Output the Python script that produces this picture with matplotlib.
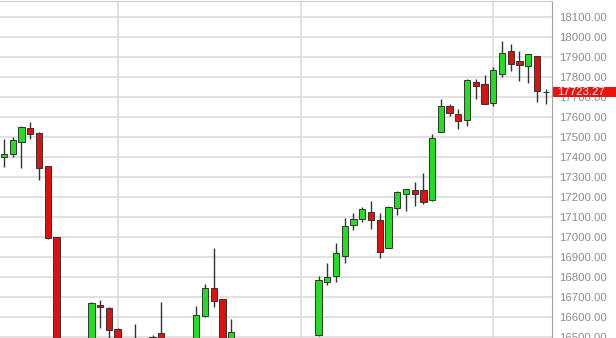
import numpy as np
import matplotlib
matplotlib.use("Agg")
import matplotlib.pyplot as plt
import matplotlib.transforms as mtransforms
from matplotlib.patches import Rectangle

plt.rcParams['font.family'] = ['Liberation Sans', 'DejaVu Sans']

# daily candles, oldest first (values below 16500 are cut off by the view)
opens = [17401.5, 17413.5, 17473.5, 17543.5, 17518.5, 17353.5, 16998.5, 16390, 16300, 16360,
         16420, 16660, 16643.5, 16540, 16420, 16390, 16450, 16420, 16518.5, 16440,
         16400, 16430, 16470, 16605, 16746.5, 16688.5, 16460, 16480, 16420, 16350,
         16400, 16360, 16300, 16340, 16400, 16380, 16508.5, 16776.5, 16806.5, 16905,
         17060, 17088.5, 17125, 17085, 16946.5, 17143.5, 17213.5, 17233.5, 17235, 17185,
         17526.5, 17655, 17615, 17585, 17773.5, 17765, 17668.5, 17815, 17931.5, 17878.5,
         17855, 17905, 17727]
closes = [17415, 17485, 17550, 17513.5, 17346.5, 16993.5, 16390, 16300, 16360, 16420,
          16668.5, 16648.5, 16535, 16420, 16380, 16450, 16420, 16501.5, 16440, 16400,
          16430, 16470, 16611.5, 16746.5, 16681.5, 16440, 16523.5, 16420, 16350, 16400,
          16360, 16300, 16340, 16400, 16380, 16470, 16785, 16801.5, 16921.5, 17056.5,
          17090, 17140, 17086.5, 16926.5, 17151.5, 17223.5, 17238.5, 17216.5, 17173.5, 17496.5,
          17653.5, 17621.5, 17581.5, 17785, 17755, 17663.5, 17835, 17921.5, 17866.5, 17861.5,
          17915, 17730, 17723.27]
highs = [17490, 17501, 17555, 17573, 17523, 17355, 16998.5, 16420, 16400, 16470,
         16676.5, 16685, 16650, 16545, 16460, 16563.5, 16480, 16510, 16676.5, 16470,
         16460, 16485, 16656.5, 16765, 16943.5, 16690, 16590, 16490, 16440, 16430,
         16450, 16390, 16380, 16440, 16460, 16485, 16806.5, 16871.5, 16971.5, 17093.5,
         17121.5, 17151.5, 17180, 17121.5, 17155, 17228.5, 17241.5, 17273.5, 17321.5, 17513.5,
         17688.5, 17665, 17641.5, 17788.5, 17791.5, 17808.5, 17851.5, 17981.5, 17963.5, 17931.5,
         17915, 17905, 17740]
lows = [17348, 17401, 17346, 17488, 17285, 16990, 16360, 16250, 16270, 16330,
        16400, 16545, 16470, 16390, 16330, 16350, 16380, 16400, 16420, 16360,
        16370, 16410, 16450, 16600, 16648.5, 16420, 16440, 16380, 16320, 16300,
        16330, 16250, 16260, 16320, 16350, 16360, 16505, 16760, 16773.5, 16868.5,
        17035, 17073.5, 17040, 16893.5, 16943.5, 17110, 17131.5, 17155, 17163.5, 17180,
        17525, 17605, 17541.5, 17556.5, 17690, 17663.5, 17655, 17798.5, 17831.5, 17781.5,
        17771.5, 17676.5, 17665]

last_price = 17723.27
month_starts = [13, 34, 56]
price_ticks = list(range(16500, 18101, 100))

fig = plt.figure(figsize=(6.16, 3.38), dpi=100)
ax = fig.add_axes([0, 0, 552 / 616, 337 / 338])

x = np.arange(len(opens))
o = np.array(opens)
c = np.array(closes)
up = c >= o
colors = np.where(up, '#22dd22', '#dd1111')
colors[-1] = '#111111'

for v in price_ticks:
    ax.axhline(v, color='#dcdcdc', lw=1.2, zorder=0)
for m in month_starts:
    ax.axvline(m, color='#dcdcdc', lw=1.2, zorder=0)

ax.vlines(x, lows, highs, color='#333333', lw=1.0, zorder=2)
ax.bar(x, np.maximum(np.abs(c - o), 4), bottom=np.minimum(o, c), width=0.72,
       color=colors, edgecolor='#333333', linewidth=0.7, zorder=3)

ax.set_xlim(-0.46, 62.72)
ax.set_ylim(16495, 18180)
ax.set_xticks([])
ax.yaxis.tick_right()
ax.set_yticks(price_ticks)
ax.set_yticklabels([f"{v:.2f}" for v in price_ticks])
ax.tick_params(axis='y', length=0, pad=5, labelsize=8.2, labelcolor='#8c8c8c')
for s in ['left', 'bottom']:
    ax.spines[s].set_visible(False)
ax.spines['right'].set_color('#a0a0a0')
ax.spines['top'].set_color('#cccccc')

# last price marker on the axis
tr = mtransforms.blended_transform_factory(fig.transFigure, ax.transData)
fig.add_artist(Rectangle((553 / 616, last_price - 25), 1, 50, transform=tr,
                         facecolor='#ee1111', edgecolor='none', zorder=5))
fig.text(557 / 616, last_price, f"{last_price:.2f}", transform=tr, color='white',
         fontsize=8.2, va='center', ha='left', zorder=6)

fig.savefig('out.png', dpi=100)
